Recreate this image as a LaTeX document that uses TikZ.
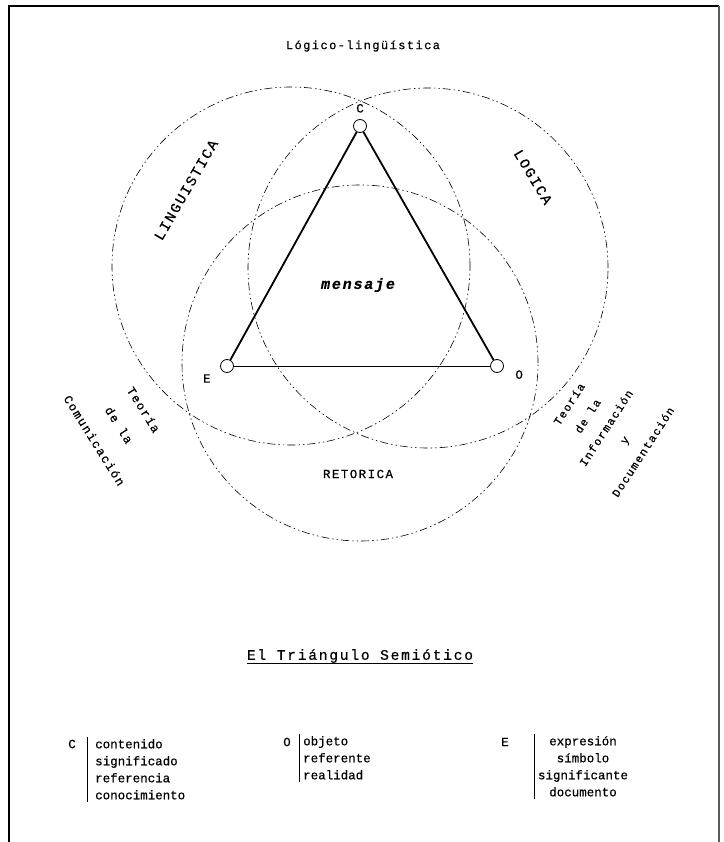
\documentclass[tikz,border=0pt]{standalone}
\usepackage{fontspec}
\setmainfont{Liberation Mono}[FakeBold=0.6]
\newfontfamily\spacedtt[LetterSpace=12, FakeBold=0.6]{Liberation Mono}
\usetikzlibrary{positioning}

\begin{document}
\begin{tikzpicture}[
    x=1pt, y=-1pt,
    font=\fontsize{12.5}{17}\selectfont,
    field/.style={draw, line width=0.6pt, dash pattern=on 8pt off 3pt on 1.5pt off 3pt on 1.5pt off 3pt},
    vertex/.style={draw, circle, fill=white, inner sep=0pt, minimum size=13pt, line width=0.8pt},
    side/.style={line width=1.8pt},
    area/.style={font=\spacedtt\fontsize{14.5}{17}\selectfont},
    theory/.style={align=center, inner sep=1pt},
    keylist/.style={align=left, inner xsep=0pt, inner ysep=2pt},
    bar/.style={line width=1pt}
  ]
  \useasboundingbox (0,0) rectangle (723,842);

  % frame, open at the bottom
  \draw[line width=1.2pt] (9,842) -- (9,6) -- (719,6);
  \draw[line width=2pt, black!65] (719,6) -- (719,842);

  % the three fields
  \draw[field] (291,266) circle [radius=179pt];
  \draw[field] (428,268) circle [radius=180pt];
  \draw[field] (360,363) circle [radius=178pt];

  \node (top) at (363,46) {\spacedtt\fontsize{12}{14}\selectfont Lógico-lingüística};
  \node (ling) [area, rotate=60] at (186,190) {LINGUISTICA};
  \node (logi) [area, rotate=-59] at (533,177) {LOGICA};
  \node (reto) [area, font=\spacedtt\fontsize{12.4}{14}\selectfont] at (358,474) {RETORICA};
  \node (msg) at (358,285) {\spacedtt\bfseries\itshape\fontsize{15}{17}\selectfont mensaje};

  % semiotic triangle
  \node (C) [vertex] at (360,126) {};
  \node (E) [vertex] at (227,366) {};
  \node (O) [vertex] at (497,366) {};
  \draw[side] (C) -- (E);
  \draw[side] (C) -- (O);
  \draw[line width=1pt] (E) -- (O);

  \node (labC) [above=3pt of C] {C};
  \node (labE) [below left=0pt and 8pt of E] {E};
  \node (labO) [below right=-4pt and 10pt of O] {O};

  \node (teoC) [theory, rotate=-58, font=\spacedtt\fontsize{12.2}{29}\selectfont] at (119,425) {Teoría\\de la\\Comunicación};
  \node (teoI) [theory, rotate=57, font=\spacedtt\fontsize{11.3}{22}\selectfont] at (606,428) {Teoría\\de la\\Información\\y\\Documentación};

  % title and key
  \node (title) [inner xsep=0pt, font=\spacedtt\fontsize{14.6}{17}\selectfont] at (360,656) {El Triángulo Semiótico};
  \draw[line width=0.8pt] ([yshift=-4pt]title.base west) -- ([yshift=-4pt]title.base east);

  \node (keyC) at (72,744) {C};
  \node (keyO) at (287,742) {O};
  \node (keyE) at (505,742) {E};

  \node (listC) [keylist, anchor=north west] at (95,737) {contenido\\significado\\referencia\\conocimiento};
  \node (listO) [keylist, anchor=north west] at (303,734) {objeto\\referente\\realidad};
  \node (listE) [keylist, align=center, anchor=north] at (583,734) {expresión\\símbolo\\significante\\documento};

  \draw[bar] ([xshift=-8pt]listC.north west) -- ([xshift=-8pt]listC.south west);
  \draw[bar] ([xshift=-4pt]listO.north west) -- ([xshift=-4pt]listO.south west);
  \draw[bar] ([xshift=-3pt]listE.north west) -- ([xshift=-3pt]listE.south west);

\end{tikzpicture}
\end{document}
